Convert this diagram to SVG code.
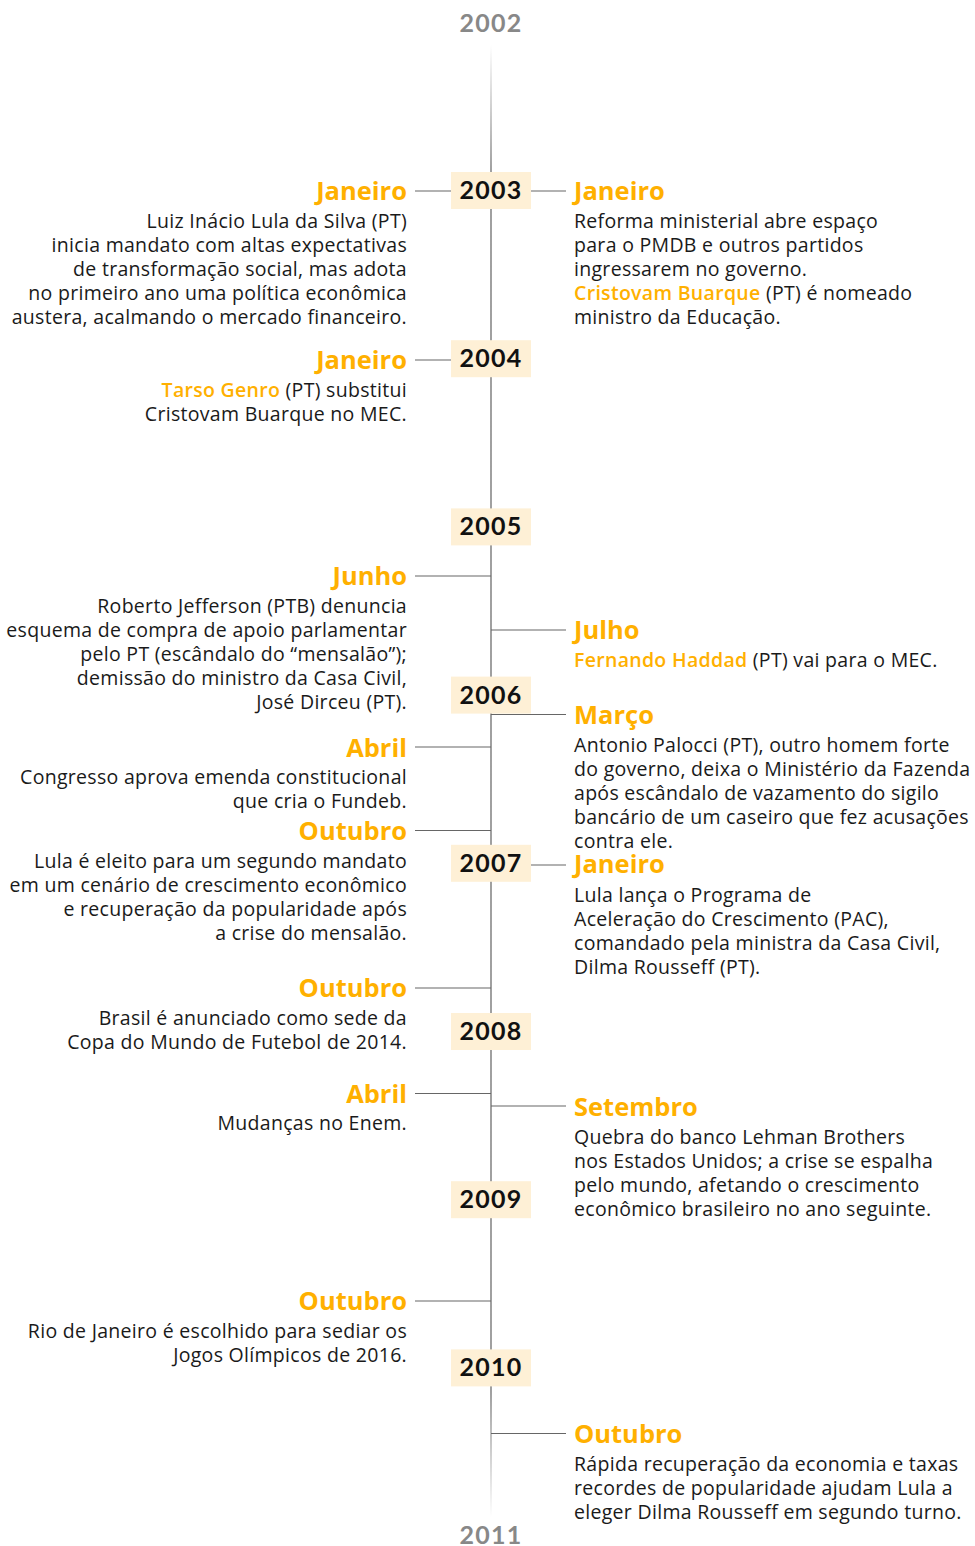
<svg xmlns="http://www.w3.org/2000/svg" width="975" height="1546" viewBox="0 0 975 1546">
<defs>
<linearGradient id="vline" gradientUnits="userSpaceOnUse" x1="0" y1="45" x2="0" y2="1517">
<stop offset="0" stop-color="#888" stop-opacity="0"/>
<stop offset="0.085" stop-color="#888" stop-opacity="1"/>
<stop offset="0.915" stop-color="#888" stop-opacity="1"/>
<stop offset="1" stop-color="#888" stop-opacity="0"/>
</linearGradient>
<style>
.h{font-family:"Open Sans","Liberation Sans",sans-serif;font-weight:700;font-size:25.5px;fill:#FFB000}
.b{font-family:"Open Sans","Liberation Sans",sans-serif;font-size:19.5px;letter-spacing:0.3px;fill:#1a1a1a}
.o{fill:#FFB000;font-weight:600}
.l{text-anchor:end}
.yr{font-family:Lato,"Liberation Sans",sans-serif;font-weight:700;font-size:25px;letter-spacing:1.2px;fill:#111;text-anchor:middle}
.yg{fill:#888}
.box{fill:#FEF0D6}
.c{stroke:#666;stroke-width:1.2;fill:none}
</style>
</defs>
<rect width="975" height="1546" fill="#fff"/>
<g id="connectors">
<line x1="491" y1="45" x2="491" y2="1517" stroke="url(#vline)" stroke-width="1.6"/>
<line class="c" x1="415" y1="191" x2="451" y2="191"/>
<line class="c" x1="415" y1="360" x2="451" y2="360"/>
<line class="c" x1="415" y1="576" x2="491" y2="576"/>
<line class="c" x1="415" y1="747" x2="491" y2="747"/>
<line class="c" x1="415" y1="830.5" x2="491" y2="830.5"/>
<line class="c" x1="415" y1="988" x2="491" y2="988"/>
<line class="c" x1="415" y1="1093.5" x2="491" y2="1093.5"/>
<line class="c" x1="415" y1="1301" x2="491" y2="1301"/>
<line class="c" x1="531" y1="191" x2="566" y2="191"/>
<line class="c" x1="491" y1="630" x2="566" y2="630"/>
<line class="c" x1="491" y1="714.5" x2="566" y2="714.5"/>
<line class="c" x1="531" y1="865" x2="566" y2="865"/>
<line class="c" x1="491" y1="1106" x2="566" y2="1106"/>
<line class="c" x1="491" y1="1433.5" x2="566" y2="1433.5" stroke="#bbb"/>
</g>
<g id="y2002"><text class="yr yg" x="491" y="31.5">2002</text></g>
<g id="y2003"><rect class="box" x="451" y="172" width="80" height="37"/><text class="yr" x="491" y="199">2003</text></g>
<g id="y2004"><rect class="box" x="451" y="340.2" width="80" height="37"/><text class="yr" x="491" y="367.2">2004</text></g>
<g id="y2005"><rect class="box" x="451" y="508.4" width="80" height="37"/><text class="yr" x="491" y="535.4">2005</text></g>
<g id="y2006"><rect class="box" x="451" y="676.6" width="80" height="37"/><text class="yr" x="491" y="703.6">2006</text></g>
<g id="y2007"><rect class="box" x="451" y="844.8" width="80" height="37"/><text class="yr" x="491" y="871.8">2007</text></g>
<g id="y2008"><rect class="box" x="451" y="1013" width="80" height="37"/><text class="yr" x="491" y="1040">2008</text></g>
<g id="y2009"><rect class="box" x="451" y="1181.2" width="80" height="37"/><text class="yr" x="491" y="1208.2">2009</text></g>
<g id="y2010"><rect class="box" x="451" y="1349.4" width="80" height="37"/><text class="yr" x="491" y="1376.4">2010</text></g>
<g id="y2011"><text class="yr yg" x="491" y="1544">2011</text></g>

<g id="e2003l">
<text class="h l" x="407" y="200">Janeiro</text>
<text class="b l" x="407" y="228">Luiz Inácio Lula da Silva (PT)</text>
<text class="b l" x="407" y="252">inicia mandato com altas expectativas</text>
<text class="b l" x="407" y="276">de transformação social, mas adota</text>
<text class="b l" x="407" y="300">no primeiro ano uma política econômica</text>
<text class="b l" x="407" y="324">austera, acalmando o mercado financeiro.</text>
</g>
<g id="e2004l">
<text class="h l" x="407" y="369">Janeiro</text>
<text class="b l" x="407" y="397"><tspan class="o">Tarso Genro</tspan> (PT) substitui</text>
<text class="b l" x="407" y="421">Cristovam Buarque no MEC.</text>
</g>
<g id="e2005l">
<text class="h l" x="407" y="585">Junho</text>
<text class="b l" x="407" y="613">Roberto Jefferson (PTB) denuncia</text>
<text class="b l" x="407" y="637">esquema de compra de apoio parlamentar</text>
<text class="b l" x="407" y="661">pelo PT (escândalo do “mensalão”);</text>
<text class="b l" x="407" y="685">demissão do ministro da Casa Civil,</text>
<text class="b l" x="407" y="709">José Dirceu (PT).</text>
</g>
<g id="e2006al">
<text class="h l" x="407" y="757">Abril</text>
<text class="b l" x="407" y="784">Congresso aprova emenda constitucional</text>
<text class="b l" x="407" y="808">que cria o Fundeb.</text>
</g>
<g id="e2006ol">
<text class="h l" x="407" y="840">Outubro</text>
<text class="b l" x="407" y="868">Lula é eleito para um segundo mandato</text>
<text class="b l" x="407" y="892">em um cenário de crescimento econômico</text>
<text class="b l" x="407" y="916">e recuperação da popularidade após</text>
<text class="b l" x="407" y="940">a crise do mensalão.</text>
</g>
<g id="e2007l">
<text class="h l" x="407" y="997">Outubro</text>
<text class="b l" x="407" y="1025">Brasil é anunciado como sede da</text>
<text class="b l" x="407" y="1049">Copa do Mundo de Futebol de 2014.</text>
</g>
<g id="e2008l">
<text class="h l" x="407" y="1103">Abril</text>
<text class="b l" x="407" y="1130">Mudanças no Enem.</text>
</g>
<g id="e2009l">
<text class="h l" x="407" y="1310">Outubro</text>
<text class="b l" x="407" y="1338">Rio de Janeiro é escolhido para sediar os</text>
<text class="b l" x="407" y="1362">Jogos Olímpicos de 2016.</text>
</g>

<g id="e2003r">
<text class="h" x="574" y="200">Janeiro</text>
<text class="b" x="574" y="228">Reforma ministerial abre espaço</text>
<text class="b" x="574" y="252">para o PMDB e outros partidos</text>
<text class="b" x="574" y="276">ingressarem no governo.</text>
<text class="b" x="574" y="300"><tspan class="o">Cristovam Buarque</tspan> (PT) é nomeado</text>
<text class="b" x="574" y="324">ministro da Educação.</text>
</g>
<g id="e2005r">
<text class="h" x="574" y="639">Julho</text>
<text class="b" x="574" y="667"><tspan class="o">Fernando Haddad</tspan> (PT) vai para o MEC.</text>
</g>
<g id="e2006r">
<text class="h" x="574" y="724">Março</text>
<text class="b" x="574" y="752">Antonio Palocci (PT), outro homem forte</text>
<text class="b" x="574" y="776">do governo, deixa o Ministério da Fazenda</text>
<text class="b" x="574" y="800">após escândalo de vazamento do sigilo</text>
<text class="b" x="574" y="824">bancário de um caseiro que fez acusações</text>
<text class="b" x="574" y="848">contra ele.</text>
</g>
<g id="e2007r">
<text class="h" x="574" y="873">Janeiro</text>
<text class="b" x="574" y="902">Lula lança o Programa de</text>
<text class="b" x="574" y="926">Aceleração do Crescimento (PAC),</text>
<text class="b" x="574" y="950">comandado pela ministra da Casa Civil,</text>
<text class="b" x="574" y="974">Dilma Rousseff (PT).</text>
</g>
<g id="e2008r">
<text class="h" x="574" y="1116">Setembro</text>
<text class="b" x="574" y="1144">Quebra do banco Lehman Brothers</text>
<text class="b" x="574" y="1168">nos Estados Unidos; a crise se espalha</text>
<text class="b" x="574" y="1192">pelo mundo, afetando o crescimento</text>
<text class="b" x="574" y="1216">econômico brasileiro no ano seguinte.</text>
</g>
<g id="e2010r">
<text class="h" x="574" y="1443">Outubro</text>
<text class="b" x="574" y="1471">Rápida recuperação da economia e taxas</text>
<text class="b" x="574" y="1495">recordes de popularidade ajudam Lula a</text>
<text class="b" x="574" y="1519">eleger Dilma Rousseff em segundo turno.</text>
</g>
</svg>
